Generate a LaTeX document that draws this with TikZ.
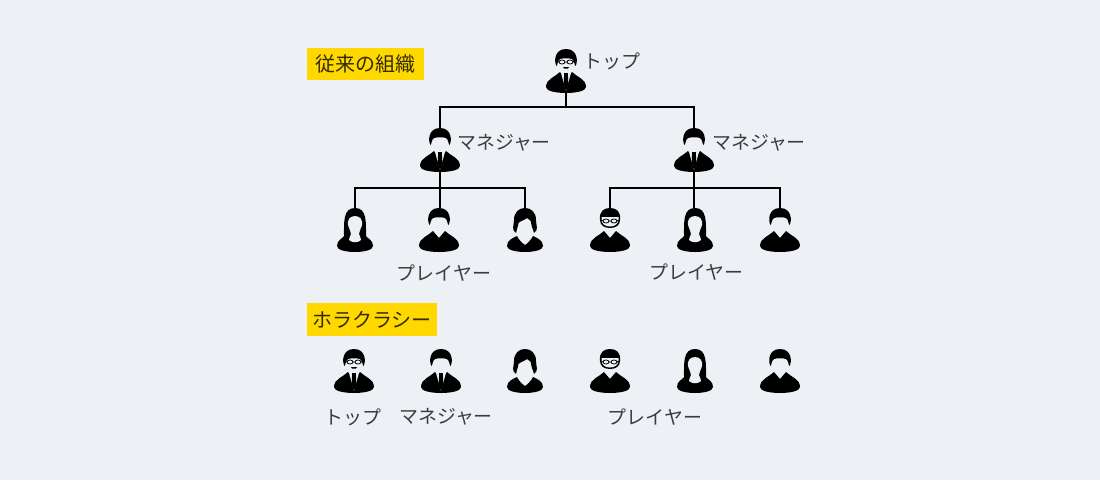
\documentclass[tikz,border=0pt]{standalone}
\usepackage{fontspec}
\newfontfamily\jpfont{Noto Sans CJK JP}
\definecolor{paper}{HTML}{EDF1F5}
\definecolor{tagyellow}{HTML}{FFD800}
\definecolor{inkgray}{HTML}{3C3C3C}
\tikzset{
	personbox/.style={inner sep=0pt, minimum width=40*0.75pt, minimum height=44*0.75pt},
	link/.style={line width=2pt, black},
	label/.style={font=\jpfont\fontsize{14.2}{16}\selectfont, text=inkgray, inner sep=0pt},
	tagbox/.style={fill=tagyellow, font=\jpfont\fontsize{15}{18}\selectfont, text=black!80!tagyellow, inner sep=0pt, minimum height=32.5*0.75pt},
	% body parts
	pics/shoulders/.style={code={
		\fill[black] (-20,16) .. controls (-20,8) and (-11,6) .. (-6,1) -- (0,8) -- (6,1) .. controls (11,6) and (20,8) .. (20,16) .. controls (20,24) and (-20,24) .. (-20,16) -- cycle;
	}},
	pics/tie/.style={code={
		\fill[paper] (-5.5,0) -- (5.5,0) -- (0,20) -- cycle;
		\fill[black] (-1.8,2) -- (1.8,2) -- (2.4,13) -- (0,20) -- (-2.4,13) -- cycle;
	}},
	pics/hair/.style={code={
		\fill[black] (-9.5,-5) .. controls (-12,-9) and (-12,-22) .. (0,-22) .. controls (12,-22) and (12,-9) .. (9.5,-5) .. controls (8.5,-5) and (8.5,-11) .. (6,-12) .. controls (3,-13) and (-3,-13) .. (-6,-12) .. controls (-8.5,-11) and (-8.5,-5) .. (-9.5,-5) -- cycle;
	}},
	pics/glasses/.style={code={
		\draw[black, line width=0.6pt] (-4,-9) circle (3 and 2) (4,-9) circle (3 and 2) (-1,-9) -- (1,-9) (-7,-9) -- (-9,-10) (7,-9) -- (9,-10);
	}},
	pics/manager/.style={code={
		\pic {shoulders}; \pic {tie}; \pic {hair};
	}},
	pics/boss/.style={code={
		\pic {shoulders}; \pic {tie}; \pic {hair}; \pic {glasses};
		\fill[black] (-3,-4) -- (3,-4) -- (2,-2.5) -- (-2,-2.5) -- cycle;
	}},
	pics/man/.style={code={
		\pic {shoulders}; \pic {hair};
	}},
	pics/nerd/.style={code={
		\pic {shoulders};
		\fill[black] (-10,-10) .. controls (-11,-19) and (-6,-22) .. (0,-22) .. controls (6,-22) and (11,-19) .. (10,-10) .. controls (10,-5) and (6,-2) .. (0,-2) .. controls (-6,-2) and (-10,-5) .. (-10,-10) -- cycle;
		\fill[paper] (-8.5,-13) -- (8.5,-13) -- (8.5,-10) .. controls (8,-6) and (5,-3.5) .. (0,-3.5) .. controls (-5,-3.5) and (-8,-6) .. (-8.5,-10) -- cycle;
		\pic {glasses};
	}},
	pics/longhair/.style={code={
		\fill[black] (-18,16) .. controls (-18,10) and (-13,9) .. (-11,6) .. controls (-11,-8) and (-12,-22) .. (0,-22) .. controls (12,-22) and (11,-8) .. (11,6) .. controls (13,9) and (18,10) .. (18,16) .. controls (18,24) and (-18,24) .. (-18,16) -- cycle;
		\fill[paper] (0,-14) .. controls (-5,-14) and (-8,-10) .. (-7,-5) .. controls (-6,-1) and (-4,1) .. (-4,4) .. controls (-4,7) and (-7,8) .. (-6,10) .. controls (-3,13) and (3,13) .. (6,10) .. controls (7,8) and (4,7) .. (4,4) .. controls (4,1) and (6,-1) .. (7,-5) .. controls (8,-10) and (5,-14) .. (0,-14) -- cycle;
	}},
	pics/bobhair/.style={code={
		\fill[black] (-18,16) .. controls (-18,10) and (-12,8) .. (-8,6) .. controls (-6,10) and (-3,13) .. (0,15) .. controls (3,13) and (6,10) .. (8,6) .. controls (12,8) and (18,10) .. (18,16) .. controls (18,24) and (-18,24) .. (-18,16) -- cycle;
		\fill[black] (-9,3) .. controls (-14,0) and (-11,-5) .. (-11,-10) .. controls (-11,-18) and (-6,-22) .. (0,-22) .. controls (6,-22) and (11,-18) .. (11,-10) .. controls (11,-5) and (14,0) .. (9,3) .. controls (9,0) and (7,-1) .. (6.5,-5) .. controls (7,-8) and (5,-11) .. (2,-12) .. controls (0,-10) and (-5,-9) .. (-6.5,-7) .. controls (-7,-2) and (-9,0) .. (-9,3) -- cycle;
	}},
}
\begin{document}
\begin{tikzpicture}[x=0.75pt, y=-0.75pt]
	\fill[paper] (0,0) rectangle (1100,480);
	\useasboundingbox (0,0) rectangle (1100,480);
	% tags
	\node[tagbox, minimum width=117*0.75pt] (tagOld) at (365.5,64) {従来の組織};
	\node[tagbox, minimum width=130*0.75pt] (tagHolo) at (372,319.5) {ホラクラシー};
	% upper tree
	\node[personbox] (top) at (566,71) {};
	\node[personbox] (mgrA) at (440,150) {};
	\node[personbox] (mgrB) at (694,150) {};
	\node[personbox] (plA1) at (355,230) {};
	\node[personbox] (plA2) at (439,230) {};
	\node[personbox] (plA3) at (525,230) {};
	\node[personbox] (plB1) at (610,230) {};
	\node[personbox] (plB2) at (695,230) {};
	\node[personbox] (plB3) at (780,230) {};
	\coordinate (barTop) at (566,107);
	\coordinate (barA) at (440,188);
	\coordinate (barB) at (694,188);
	\draw[link] (top.south) -- (barTop);
	\draw[link] (mgrA.north) |- (barTop) -| (mgrB.north);
	\draw[link] (mgrA.south) -- (mgrA.south |- plA2.north);
	\draw[link] (mgrB.south) -- (mgrB.south |- plB2.north);
	\draw[link] (plA1.north) |- (barA) -| (plA3.north);
	\draw[link] (plB1.north) |- (barB) -| (plB3.north);
	\pic at (top) {boss};
	\pic at (mgrA) {manager};
	\pic at (mgrB) {manager};
	\pic at (plA1) {longhair};
	\pic at (plA2) {man};
	\pic at (plA3) {bobhair};
	\pic at (plB1) {nerd};
	\pic at (plB2) {longhair};
	\pic at (plB3) {man};
	\node[label] (lblTop) at (612,61) {トップ};
	\node[label] (lblMgrA) at (504,143) {マネジャー};
	\node[label] (lblMgrB) at (759,143) {マネジャー};
	\node[label] (lblPlA) at (444,273) {プレイヤー};
	\node[label] (lblPlB) at (696.5,272) {プレイヤー};
	% lower row
	\node[personbox] (flat1) at (354,371) {};
	\node[personbox] (flat2) at (441,371) {};
	\node[personbox] (flat3) at (525,371) {};
	\node[personbox] (flat4) at (610,371) {};
	\node[personbox] (flat5) at (695,371) {};
	\node[personbox] (flat6) at (780,371) {};
	\pic at (flat1) {boss};
	\pic at (flat2) {manager};
	\pic at (flat3) {bobhair};
	\pic at (flat4) {nerd};
	\pic at (flat5) {longhair};
	\pic at (flat6) {man};
	\node[label] (lblFlatTop) at (353,417) {トップ};
	\node[label] (lblFlatMgr) at (446,417) {マネジャー};
	\node[label] (lblFlatPl) at (655,417) {プレイヤー};
\end{tikzpicture}
\end{document}
